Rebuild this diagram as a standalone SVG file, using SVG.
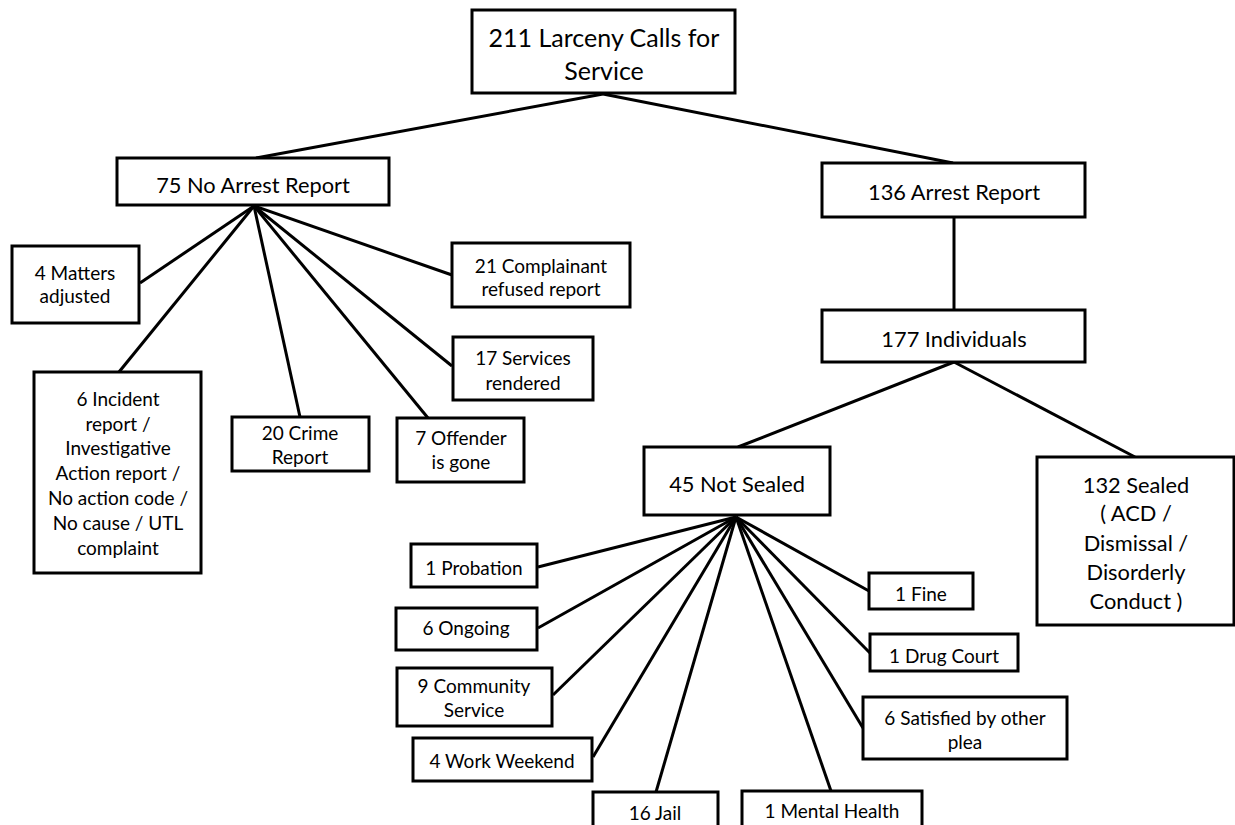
<svg xmlns="http://www.w3.org/2000/svg" width="1235" height="825" viewBox="0 0 1235 825">
<style>
.box{fill:#fff;stroke:#000;stroke-width:3}
.ln{stroke:#000;stroke-width:3;fill:none}
text{font-family:Lato,"Liberation Sans",sans-serif;fill:#000;text-anchor:middle}
.xl{font-size:25px}
.lg{font-size:21.8px}
.sm{font-size:19px}
</style>
<rect width="1235" height="825" fill="#fff"/>
<g id="connectors">
<line class="ln" x1="603" y1="94" x2="256" y2="158"/>
<line class="ln" x1="603" y1="94" x2="953" y2="163"/>
<line class="ln" x1="954" y1="217" x2="954" y2="310"/>
<line class="ln" x1="254" y1="206" x2="140" y2="283"/>
<line class="ln" x1="254" y1="206" x2="119" y2="372"/>
<line class="ln" x1="254" y1="206" x2="300" y2="417"/>
<line class="ln" x1="254" y1="206" x2="428" y2="418"/>
<line class="ln" x1="254" y1="206" x2="452" y2="366"/>
<line class="ln" x1="254" y1="206" x2="452" y2="275"/>
<line class="ln" x1="954" y1="362" x2="738" y2="447"/>
<line class="ln" x1="954" y1="362" x2="1135" y2="457"/>
<line class="ln" x1="736" y1="517" x2="538" y2="567"/>
<line class="ln" x1="736" y1="517" x2="538" y2="628"/>
<line class="ln" x1="736" y1="517" x2="553" y2="695"/>
<line class="ln" x1="736" y1="517" x2="593" y2="757"/>
<line class="ln" x1="736" y1="517" x2="656" y2="792"/>
<line class="ln" x1="736" y1="517" x2="831" y2="791"/>
<line class="ln" x1="736" y1="517" x2="863" y2="728"/>
<line class="ln" x1="736" y1="517" x2="870" y2="653"/>
<line class="ln" x1="736" y1="517" x2="869" y2="591"/>
</g>
<g id="root"><rect class="box" x="472" y="10" width="263" height="83"/><text class="xl" x="604" y="47">211 Larceny Calls for</text><text class="xl" x="604" y="80">Service</text></g>
<g id="noarrest"><rect class="box" x="117" y="158" width="272" height="47"/><text class="lg" x="253" y="193">75 No Arrest Report</text></g>
<g id="arrest"><rect class="box" x="822" y="163" width="263" height="54"/><text class="lg" x="954" y="200">136 Arrest Report</text></g>
<g id="individuals"><rect class="box" x="822" y="310" width="263" height="52"/><text class="lg" x="954" y="347">177 Individuals</text></g>
<g id="matters"><rect class="box" x="12" y="246" width="127" height="77"/><text class="sm" x="75" y="280">4 Matters</text><text class="sm" x="75" y="303">adjusted</text></g>
<g id="complainant"><rect class="box" x="452" y="243" width="178" height="64"/><text class="sm" x="541" y="273">21 Complainant</text><text class="sm" x="541" y="296">refused report</text></g>
<g id="services"><rect class="box" x="453" y="337" width="140" height="63"/><text class="sm" x="523" y="365">17 Services</text><text class="sm" x="523" y="390">rendered</text></g>
<g id="incident"><rect class="box" x="34" y="372" width="167" height="201"/>
<text class="sm" x="118" y="406">6 Incident</text><text class="sm" x="118" y="431">report /</text><text class="sm" x="118" y="455">Investigative</text><text class="sm" x="118" y="480">Action report /</text><text class="sm" x="118" y="505">No action code /</text><text class="sm" x="118" y="530">No cause / UTL</text><text class="sm" x="118" y="555">complaint</text></g>
<g id="crime"><rect class="box" x="232" y="417" width="137" height="54"/><text class="sm" x="300" y="440">20 Crime</text><text class="sm" x="300" y="464">Report</text></g>
<g id="offender"><rect class="box" x="397" y="418" width="127" height="64"/><text class="sm" x="461" y="445">7 Offender</text><text class="sm" x="461" y="469">is gone</text></g>
<g id="notsealed"><rect class="box" x="644" y="447" width="186" height="68"/><text class="lg" x="737" y="492">45 Not Sealed</text></g>
<g id="sealed"><rect class="box" x="1037" y="457" width="197" height="168"/>
<text class="lg" x="1136" y="493">132 Sealed</text><text class="lg" x="1136" y="521">( ACD /</text><text class="lg" x="1136" y="551">Dismissal /</text><text class="lg" x="1136" y="580">Disorderly</text><text class="lg" x="1136" y="609">Conduct )</text></g>
<g id="probation"><rect class="box" x="411" y="544" width="126" height="43"/><text class="sm" x="474" y="575">1 Probation</text></g>
<g id="ongoing"><rect class="box" x="396" y="608" width="141" height="42"/><text class="sm" x="466" y="635">6 Ongoing</text></g>
<g id="community"><rect class="box" x="397" y="668" width="155" height="58"/><text class="sm" x="474" y="693">9 Community</text><text class="sm" x="474" y="717">Service</text></g>
<g id="workweekend"><rect class="box" x="413" y="738" width="179" height="43"/><text class="sm" x="502" y="768">4 Work Weekend</text></g>
<g id="jail"><rect class="box" x="593" y="792" width="125" height="50"/><text class="sm" x="655" y="820">16 Jail</text></g>
<g id="mental"><rect class="box" x="742" y="791" width="180" height="50"/><text class="sm" x="832" y="818">1 Mental Health</text></g>
<g id="fine"><rect class="box" x="869" y="573" width="104" height="36"/><text class="sm" x="921" y="601">1 Fine</text></g>
<g id="drugcourt"><rect class="box" x="870" y="634" width="148" height="37"/><text class="sm" x="944" y="663">1 Drug Court</text></g>
<g id="satisfied"><rect class="box" x="863" y="697" width="204" height="62"/><text class="sm" x="965" y="725">6 Satisfied by other</text><text class="sm" x="965" y="749">plea</text></g>
</svg>
